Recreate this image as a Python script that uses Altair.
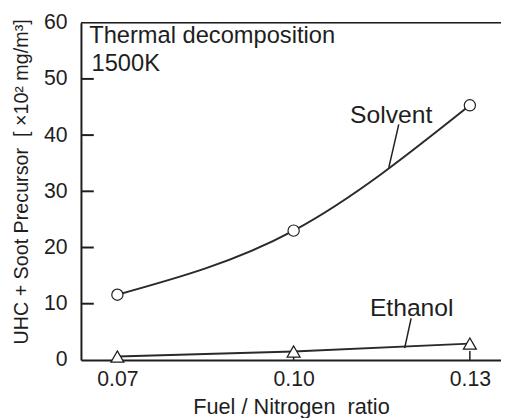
import altair as alt
import pandas as pd

# ---- data ----
ratio = [0.07, 0.10, 0.13]
solvent = [11.6, 23.0, 45.3]
ethanol = [0.6, 1.5, 2.9]

y_tick_values = [0, 10, 20, 30, 40, 50, 60]
y_inner_ticks = [10, 20, 30, 40, 50]
x_tick_values = [0.07, 0.10, 0.13]

note_text = ["Thermal decomposition", "1500K"]
note_x = [0.0652, 0.0656]
note_y = [57.7, 52.6]

series_text = ["Solvent", "Ethanol"]
series_x = [0.1166, 0.1201]
series_y = [43.5, 9.3]

leader_x = [0.1179, 0.1200]
leader_y = [41.9, 7.4]
leader_x2 = [0.1162, 0.1189]
leader_y2 = [34.2, 2.1]

W, H = 426, 342
FONT = "Liberation Sans"
INK = "#1e1e1e"
NB = "\u00a0"

sol_df = pd.DataFrame({"ratio": ratio, "value": solvent})
eth_df = pd.DataFrame({"ratio": ratio, "value": ethanol})

xs = alt.Scale(domain=[0.0638, 0.1353], nice=False, zero=False)
ys = alt.Scale(domain=[0, 60], nice=False)

x_axis = alt.Axis(values=x_tick_values, format=".2f", ticks=False, grid=False,
                  domainColor=INK, domainWidth=2, labelFontSize=21.5, labelFont=FONT,
                  labelColor=INK, labelPadding=9,
                  title="Fuel / Nitrogen" + NB + NB + "ratio",
                  titleFont=FONT, titleFontSize=22, titleFontWeight="normal",
                  titleColor=INK, titleBaseline="top", titleY=37)
y_axis = alt.Axis(values=y_tick_values, ticks=False, grid=False,
                  domainColor=INK, domainWidth=2, labelFontSize=21.5, labelFont=FONT,
                  labelColor=INK, labelPadding=14,
                  title="UHC + Soot Precursor" + NB + NB + "[" + NB + "\u00d710\u00b2 mg/m\u00b3]",
                  titleFont=FONT, titleFontSize=20, titleFontWeight="normal",
                  titleColor=INK, titleX=-60, titleY=161, titleAngle=270,
                  titleBaseline="middle", titleAlign="center")

base_x = alt.X("ratio:Q", scale=xs, axis=x_axis)
base_y = alt.Y("value:Q", scale=ys, axis=y_axis)

sol_line = alt.Chart(sol_df).mark_line(interpolate="natural", color="#2a2a2a",
                                       strokeWidth=2).encode(x=base_x, y=base_y)
eth_line = alt.Chart(eth_df).mark_line(interpolate="natural", color="#2a2a2a",
                                       strokeWidth=2).encode(x="ratio:Q", y="value:Q")

yt = alt.Chart(pd.DataFrame({"v": y_inner_ticks})).mark_rule(
    color=INK, strokeWidth=2).encode(y=alt.Y("v:Q", scale=ys), x=alt.value(0), x2=alt.value(13))
xt = alt.Chart(pd.DataFrame({"v": x_tick_values})).mark_rule(
    color=INK, strokeWidth=1.5).encode(x=alt.X("v:Q", scale=xs), y=alt.value(H), y2=alt.value(H - 9))
top = alt.Chart(pd.DataFrame({"v": [0]})).mark_rule(color=INK, strokeWidth=1.5).encode(
    x=alt.value(0), x2=alt.value(W), y=alt.value(0))

sol_pts = alt.Chart(sol_df).mark_point(shape="circle", filled=True, fill="white",
                                       stroke=INK, strokeWidth=1.2, size=130,
                                       opacity=1).encode(x="ratio:Q", y="value:Q")
eth_pts = alt.Chart(eth_df).mark_point(shape="triangle-up", filled=True, fill="white",
                                       stroke=INK, strokeWidth=1.3, size=170,
                                       opacity=1).encode(x="ratio:Q", y="value:Q")

leaders = alt.Chart(pd.DataFrame({"x": leader_x, "y": leader_y, "x2": leader_x2,
                                  "y2": leader_y2})).mark_rule(
    color=INK, strokeWidth=1.5).encode(x="x:Q", y="y:Q", x2="x2:Q", y2="y2:Q")

notes = alt.Chart(pd.DataFrame({"t": note_text, "x": note_x, "y": note_y})).mark_text(
    align="left", baseline="middle", font=FONT, fontSize=24, color=INK).encode(
    x="x:Q", y="y:Q", text="t:N")
labels = alt.Chart(pd.DataFrame({"t": series_text, "x": series_x, "y": series_y})).mark_text(
    align="center", baseline="middle", font=FONT, fontSize=25, color=INK).encode(
    x="x:Q", y="y:Q", text="t:N")

chart = alt.layer(sol_line, eth_line, yt, xt, top, leaders, sol_pts, eth_pts, notes, labels).properties(
    width=W, height=H,
    autosize=alt.AutoSizeParams(type="none"),
    padding={"left": 74, "top": 12, "right": 0, "bottom": 56},
).configure_view(stroke=None).configure(background="white")

chart.save("out.html", embed_options={"renderer": "svg", "actions": False})
